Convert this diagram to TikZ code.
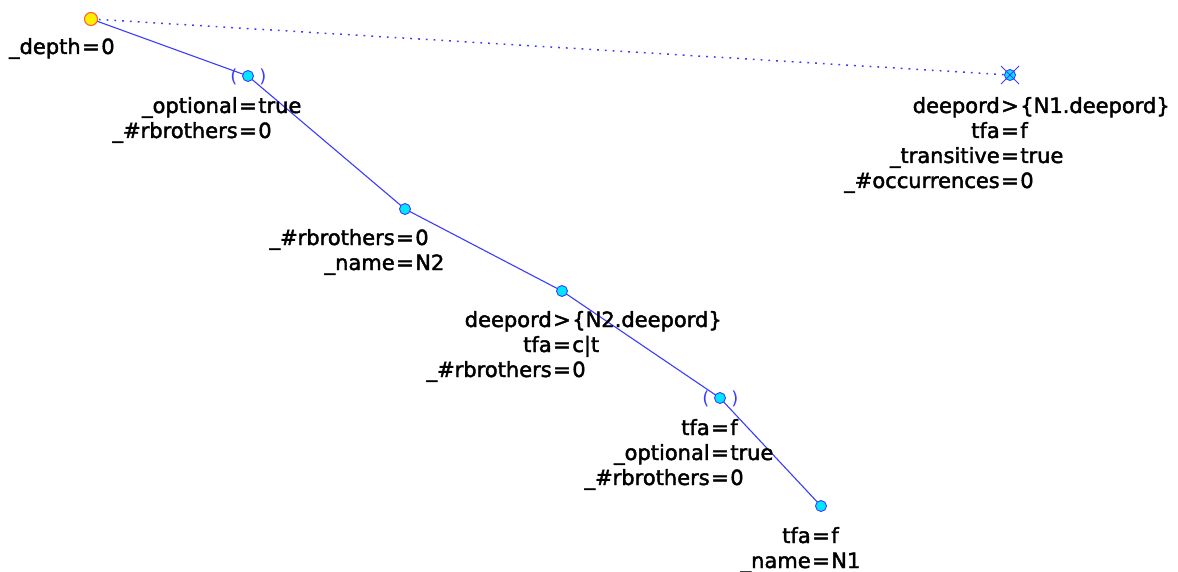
\documentclass[tikz,border=0pt]{standalone}
\usepackage{fontspec}
\setmainfont{DejaVu Sans}
\newfontfamily\lblfont{DejaVu Sans}[FakeBold=2]
\definecolor{edgeblue}{RGB}{60,60,255}
\definecolor{nodecyan}{RGB}{0,230,255}
\definecolor{rootyellow}{RGB}{255,240,0}
\definecolor{rootborder}{RGB}{255,90,40}
\tikzset{
  pt/.style={circle, draw=edgeblue, fill=nodecyan, inner sep=0pt, minimum size=11pt, line width=0.9pt},
  rootpt/.style={circle, draw=rootborder, fill=rootyellow, inner sep=0pt, minimum size=13pt, line width=1pt},
  edge/.style={draw=edgeblue, line width=1.1pt},
  dottededge/.style={draw=edgeblue, line width=1.5pt, dash pattern=on 1.8pt off 6pt},
  lbl/.style={inner sep=0pt, outer sep=0pt, font=\lblfont\fontsize{21}{25}\selectfont, text=black},
  paren/.style={inner sep=0pt, font=\fontsize{18}{18}\selectfont, text=edgeblue},
}
% #1 name, #2 anchor node, #3 y offset, #4 left, #5 op, #6 right
\newcommand\kvline[6]{%
  \path (#2) ++(0,#3) node[lbl, anchor=base] (#1) {\kern1.5pt#5\kern1.5pt};
  \node[lbl, anchor=base east] (#1l) at (#1.base west) {#4};
  \node[lbl, anchor=base west] (#1r) at (#1.base east) {#6};
}
\begin{document}
\begin{tikzpicture}[x=1pt, y=-1pt]
\useasboundingbox (0,0) rectangle (1178,572);
% edges first (behind points)
\coordinate (rootc) at (91,19);
\coordinate (ac) at (248,76);
\coordinate (bc) at (405,209);
\coordinate (cc) at (562,291);
\coordinate (dc) at (720,398);
\coordinate (ec) at (821,506);
\coordinate (xc) at (1010,75);
\draw[edge] (rootc) -- (ac);
\draw[edge] (ac) -- (bc);
\draw[edge] (bc) -- (cc);
\draw[edge] (cc) -- (dc);
\draw[edge] (dc) -- (ec);
\draw[dottededge] (rootc) -- (xc);
% points
\node[rootpt] (root) at (rootc) {};
\node[pt] (a) at (ac) {};
\node[pt] (b) at (bc) {};
\node[pt] (c) at (cc) {};
\node[pt] (d) at (dc) {};
\node[pt] (e) at (ec) {};
\node[pt] (x) at (xc) {};
% cross on x
\coordinate (x1) at (1001,66);
\coordinate (x2) at (1019,84);
\coordinate (x3) at (1019,66);
\coordinate (x4) at (1001,84);
\draw[edge, line width=0.8pt] (x1) -- (x2);
\draw[edge, line width=0.8pt] (x3) -- (x4);
% parentheses
\node[paren] (ap1) at (234,77) {(};
\node[paren] (ap2) at (263,77) {)};
\node[paren] (dp1) at (706,399) {(};
\node[paren] (dp2) at (735,399) {)};
% labels
\kvline{r1}{root}{35}{\_depth}{=}{0}
\kvline{a1}{a}{37}{\_optional}{=}{true}
\kvline{a2}{a}{62}{\_\#rbrothers}{=}{0}
\kvline{b1}{b}{36}{\_\#rbrothers}{=}{0}
\kvline{b2}{b}{61}{\_name}{=}{N2}
\kvline{c1}{c}{36}{deepord}{>}{\{N2.deepord\}}
\kvline{c2}{c}{61}{tfa}{=}{c|t}
\kvline{c3}{c}{86}{\_\#rbrothers}{=}{0}
\kvline{d1}{d}{37}{tfa}{=}{f}
\kvline{d2}{d}{62}{\_optional}{=}{true}
\kvline{d3}{d}{87}{\_\#rbrothers}{=}{0}
\kvline{e1}{e}{37}{tfa}{=}{f}
\kvline{e2}{e}{62}{\_name}{=}{N1}
\kvline{x1l}{x}{38}{deepord}{>}{\{N1.deepord\}}
\kvline{x2l}{x}{63}{tfa}{=}{f}
\kvline{x3l}{x}{88}{\_transitive}{=}{true}
\kvline{x4l}{x}{113}{\_\#occurrences}{=}{0}
\end{tikzpicture}
\end{document}
